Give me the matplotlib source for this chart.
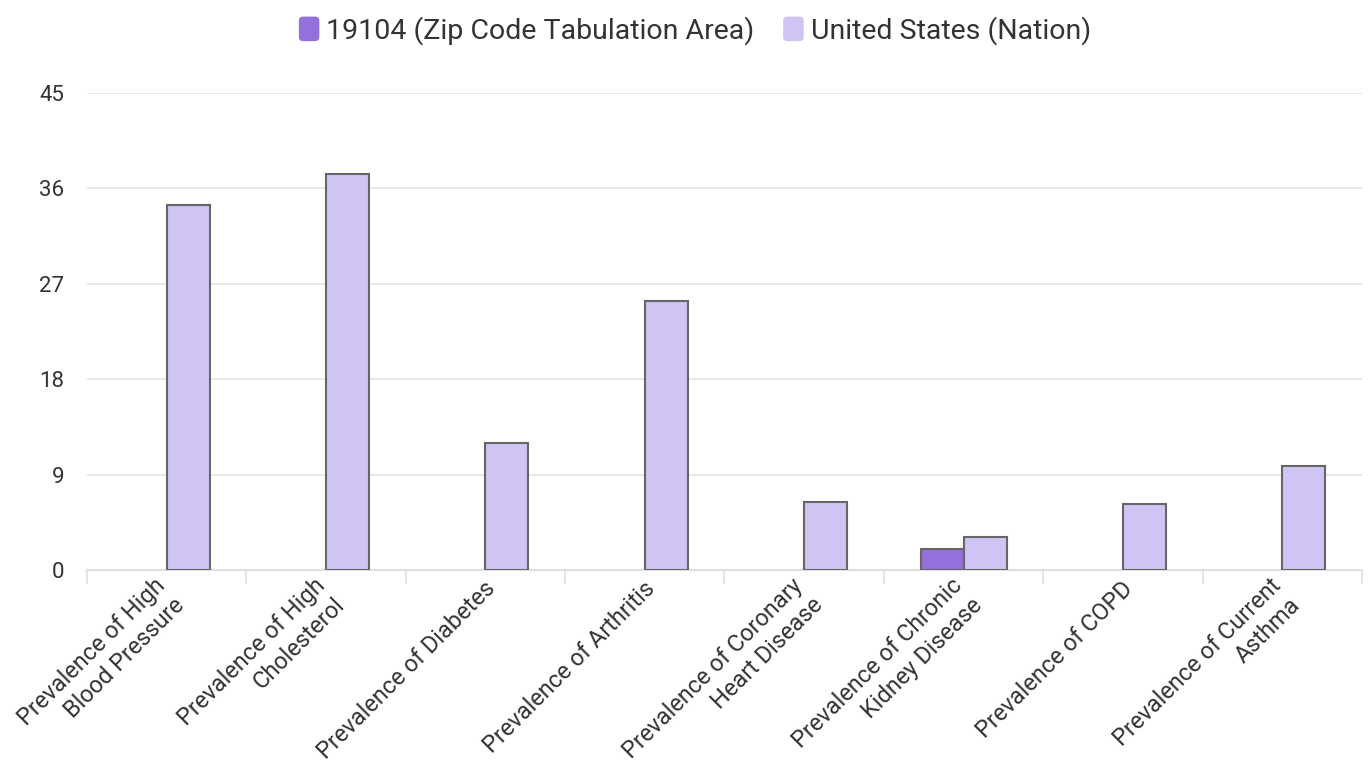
import numpy as np
import matplotlib
matplotlib.use("Agg")
import matplotlib.pyplot as plt
from matplotlib.patches import Patch, FancyBboxPatch
from matplotlib.legend_handler import HandlerPatch
from matplotlib.transforms import ScaledTranslation

plt.rcParams['font.family'] = ['Roboto', 'DejaVu Sans']

categories = [
    "Prevalence of High\nBlood Pressure",
    "Prevalence of High\nCholesterol",
    "Prevalence of Diabetes",
    "Prevalence of Arthritis",
    "Prevalence of Coronary\nHeart Disease",
    "Prevalence of Chronic\nKidney Disease",
    "Prevalence of COPD",
    "Prevalence of Current\nAsthma",
]
zip_values = [np.nan, np.nan, np.nan, np.nan, np.nan, 2.0, np.nan, np.nan]
us_values = [34.4, 37.4, 12.0, 25.4, 6.4, 3.1, 6.2, 9.8]
series_names = ["19104 (Zip Code Tabulation Area)", "United States (Nation)"]
yticks = [0, 9, 18, 27, 36, 45]

zip_color = "#9370DB"
us_color = "#D0C4F4"
edge = "#666666"

fig = plt.figure(figsize=(13.68, 7.8), dpi=100)
ax = fig.add_axes([0.0636, 0.2692, 0.932, 0.6116])

x = np.arange(len(categories))
w = 0.27
ax.bar(x - w / 2, zip_values, width=w, color=zip_color, edgecolor=edge, linewidth=1.5, zorder=3)
ax.bar(x + w / 2, us_values, width=w, color=us_color, edgecolor=edge, linewidth=1.5, zorder=3)

ax.set_xlim(-0.5, len(categories) - 0.5)
ax.set_ylim(0, 45)
ax.set_yticks(yticks)
ax.set_yticklabels([str(v) for v in yticks], fontsize=16, color="#333333")
ax.tick_params(axis='y', length=0, pad=16.5)
ax.yaxis.grid(True, color="#e3e3e3", linewidth=1.2, zorder=0)

# category labels
ax.set_xticks(x)
ax.set_xticklabels(categories, rotation=45, ha='right', va='center', rotation_mode='anchor',
                   fontsize=16.9, color="#333333", multialignment='right', linespacing=1.25)
ax.tick_params(axis='x', length=0, pad=11.0)
for lab, cat in zip(ax.get_xticklabels(), categories):
    if "\n" in cat:
        dx, dy = 5.0, -6.5
    else:
        dx, dy = 6.5, 0.0
    lab.set_transform(lab.get_transform() + ScaledTranslation(dx / 100, dy / 100, fig.dpi_scale_trans))
# boundary tick marks
ax.set_xticks(np.arange(-0.5, len(categories)), minor=True)
ax.tick_params(axis='x', which='minor', length=10, color="#e0e0e0", width=1.2)

for s in ['top', 'right', 'left']:
    ax.spines[s].set_visible(False)
ax.spines['bottom'].set_color("#e0e0e0")
ax.spines['bottom'].set_linewidth(1.5)


class RoundHandler(HandlerPatch):
    def create_artists(self, legend, orig_handle, xdescent, ydescent, width, height, fontsize, trans):
        p = FancyBboxPatch((-xdescent, -ydescent), width, height,
                           boxstyle="round,pad=0,rounding_size=3",
                           facecolor=orig_handle.get_facecolor(), edgecolor='none', transform=trans)
        return [p]


handles = [Patch(facecolor=zip_color, edgecolor='none'), Patch(facecolor=us_color, edgecolor='none')]
fig.legend(handles, series_names, loc='upper center', bbox_to_anchor=(0.508, 1.012), ncol=2,
           frameon=False, fontsize=20.5, handlelength=0.72, handleheight=0.95,
           handletextpad=0.25, columnspacing=1.0, labelcolor="#333333",
           handler_map={Patch: RoundHandler()})

fig.savefig("out.png", dpi=100)
